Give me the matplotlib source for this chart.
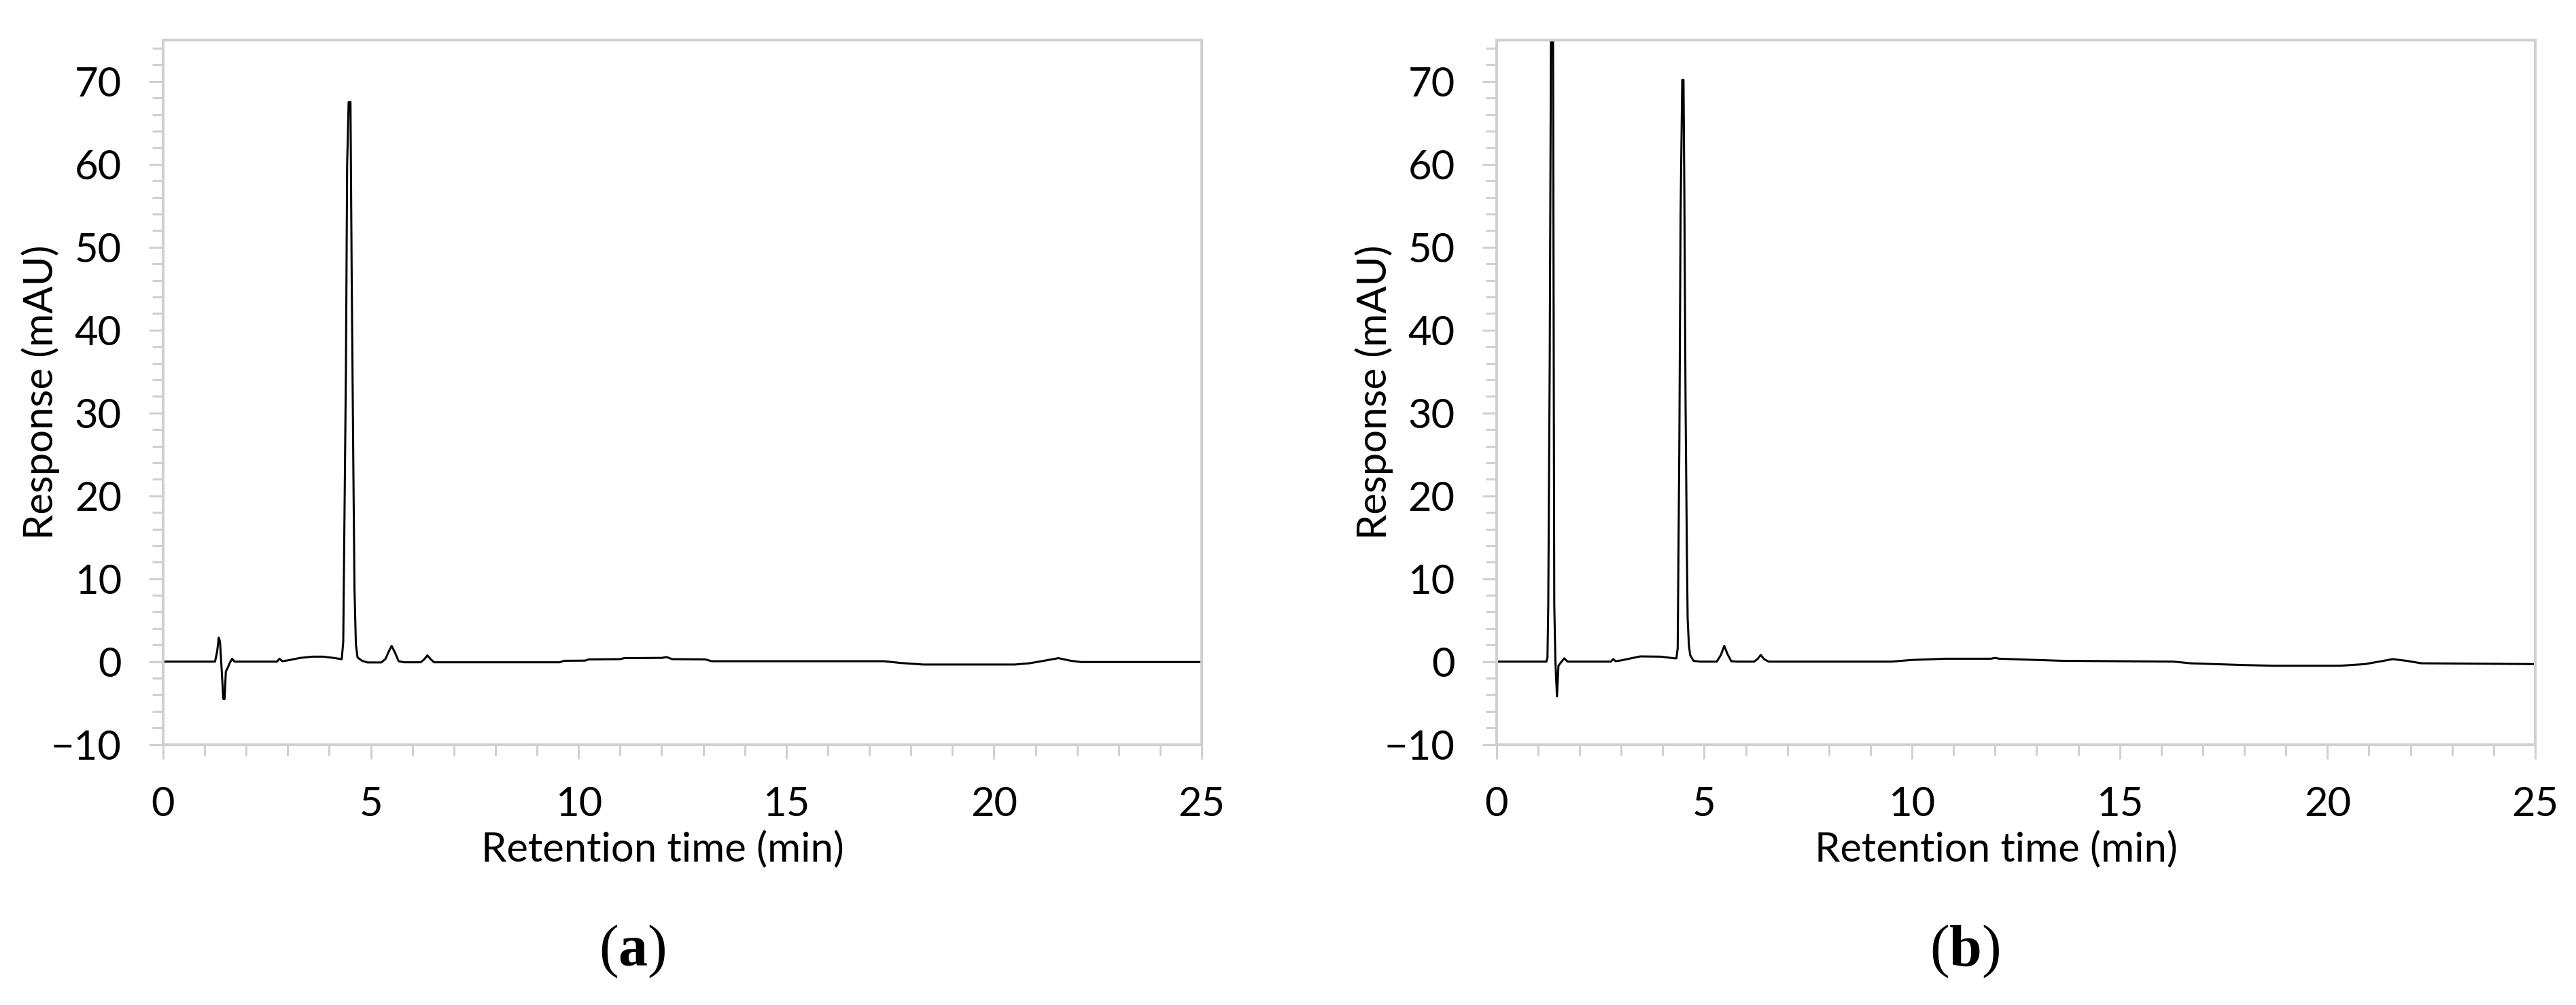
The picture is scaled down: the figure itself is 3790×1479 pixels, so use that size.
import matplotlib
matplotlib.use("Agg")
import matplotlib.pyplot as plt
from matplotlib.ticker import MultipleLocator

# chromatogram (a): retention time (min) vs response (mAU)
time_a = [0, 1.25, 1.30, 1.34, 1.37, 1.41, 1.45, 1.48, 1.51, 1.55, 1.60, 1.66, 1.72,
          2.74, 2.80, 2.87, 3.00, 3.30, 3.60, 3.85, 4.10, 4.30,
          4.336, 4.355, 4.40, 4.43, 4.466, 4.51, 4.54, 4.58, 4.606, 4.64, 4.68, 4.79, 4.92,
          5.25, 5.35, 5.43, 5.50, 5.58, 5.67, 5.80,
          6.20, 6.28, 6.36, 6.44, 6.52,
          9.55, 9.65, 10.15, 10.25, 11.0, 11.1, 12.0, 12.12, 12.25, 13.05, 13.2,
          17.35, 17.75, 18.3, 20.5, 20.85, 21.2, 21.55, 21.85, 22.1, 25]
resp_a = [0, 0, 1.2, 2.9, 2.4, -1.0, -4.5, -4.5, -1.2, -0.8, -0.2, 0.35, 0.0,
          0, 0.35, 0.05, 0.15, 0.45, 0.6, 0.6, 0.45, 0.3,
          2.4, 12, 35, 60, 67.5, 67.5, 46, 23, 8.9, 2.1, 0.5, 0.1, -0.1,
          -0.1, 0.3, 1.2, 1.9, 1.1, 0.05, -0.08,
          -0.08, 0.25, 0.75, 0.3, -0.08,
          -0.08, 0.1, 0.12, 0.27, 0.3, 0.42, 0.45, 0.55, 0.3, 0.27, 0.05,
          0.05, -0.16, -0.35, -0.35, -0.2, 0.1, 0.42, 0.1, -0.05, -0.05]

# chromatogram (b)
time_b = [0, 1.20, 1.226, 1.245, 1.28, 1.31, 1.335, 1.36, 1.39, 1.417, 1.455, 1.49, 1.55, 1.63, 1.71,
          2.75, 2.81, 2.87, 3.00, 3.46, 3.95, 4.28,
          4.33, 4.36, 4.40, 4.43, 4.47, 4.50, 4.52, 4.55, 4.58, 4.60, 4.63, 4.66, 4.74, 4.90,
          5.30, 5.40, 5.48, 5.56, 5.65, 5.80,
          6.20, 6.28, 6.36, 6.44, 6.55,
          9.5, 10.0, 10.8, 11.9, 12.0, 12.1, 12.4, 13.6, 16.3, 16.7, 17.9, 18.7, 20.3,
          20.9, 21.3, 21.57, 21.9, 22.26, 25]
resp_b = [0, 0, 0.5, 6.8, 36, 75, 88, 75, 6.8, 0, -4.2, -0.5, -0.1, 0.4, 0,
          0, 0.3, 0.05, 0.15, 0.63, 0.6, 0.4,
          0.4, 1.6, 26, 54, 70.2, 70.2, 57, 31, 14, 5.2, 2.0, 0.8, 0.1, 0,
          0, 0.8, 1.9, 0.9, 0.05, 0,
          0, 0.3, 0.8, 0.3, 0,
          0, 0.2, 0.35, 0.35, 0.45, 0.35, 0.3, 0.1, 0, -0.2, -0.4, -0.5, -0.5,
          -0.3, 0.05, 0.3, 0.1, -0.2, -0.3]

x_ticks = [0, 5, 10, 15, 20, 25]
y_ticks = [-10, 0, 10, 20, 30, 40, 50, 60, 70]
panel_tags = ["a", "b"]

plt.rcParams['font.family'] = ['Lato', 'DejaVu Sans']
plt.rcParams['mathtext.fontset'] = 'custom'
plt.rcParams['mathtext.rm'] = 'Liberation Serif'
plt.rcParams['mathtext.bf'] = 'Liberation Serif:bold'

GRAY = '#d0d0d0'


def draw_panel(ax, t, y):
    ax.plot(t, y, color='black', lw=2.2)
    ax.set_xlim(0, 25)
    ax.set_ylim(-10, 75)
    ax.set_xticks(x_ticks)
    ax.set_yticks(y_ticks)
    ax.xaxis.set_minor_locator(MultipleLocator(1))
    ax.yaxis.set_minor_locator(MultipleLocator(2))
    for s in ax.spines.values():
        s.set_color(GRAY)
        s.set_linewidth(3)
    ax.tick_params(which='major', length=15, width=2.2, color=GRAY, labelsize=43, pad=29)
    ax.tick_params(which='minor', length=11.5, width=2.2, color=GRAY)
    ax.set_xlabel('Retention time (min)', fontsize=43)
    ax.set_ylabel('Response (mAU)', fontsize=43)
    ax.xaxis.set_label_coords(0.481, -0.122)
    ax.yaxis.set_label_coords(-0.0995, 0.5)


fig = plt.figure(figsize=(37.91, 14.79), dpi=100)
ax1 = fig.add_axes([0.0633, 0.2592, 0.4031, 0.7010])
ax2 = fig.add_axes([0.5808, 0.2592, 0.4031, 0.7010])
draw_panel(ax1, time_a, resp_a)
draw_panel(ax2, time_b, resp_b)

# panel captions
fig.text(0.2453, 0.0534, r'($\mathbf{%s}$)' % panel_tags[0], fontsize=62,
         family='Liberation Serif', ha='center', va='center')
fig.text(0.7626, 0.0534, r'($\mathbf{%s}$)' % panel_tags[1], fontsize=62,
         family='Liberation Serif', ha='center', va='center')

fig.savefig('out.png', dpi=100, facecolor='white')
